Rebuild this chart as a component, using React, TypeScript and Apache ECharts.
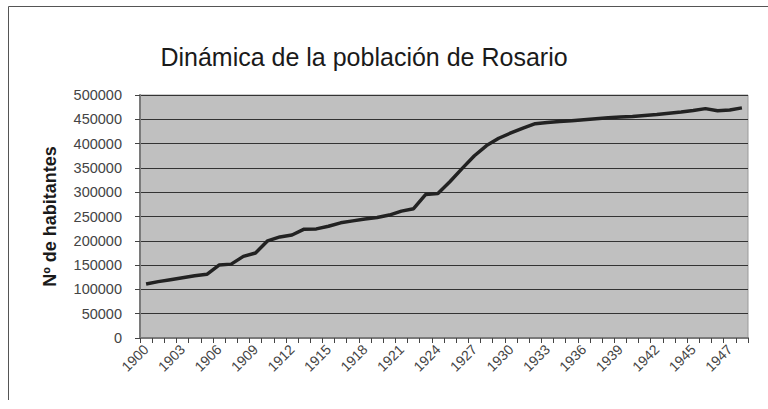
import React, { useEffect, useRef } from "react";
import * as echarts from "echarts";

const titleText = "Dinámica de la población de Rosario";
const yAxisName = "Nº de habitantes";

const years: string[] = [
  "1900", "1901", "1902", "1903", "1904", "1905", "1906", "1907", "1908", "1909",
  "1910", "1911", "1912", "1913", "1914", "1915", "1916", "1917", "1918", "1919",
  "1920", "1921", "1922", "1923", "1924", "1925", "1926", "1927", "1928", "1929",
  "1930", "1931", "1932", "1933", "1934", "1935", "1936", "1937", "1938", "1939",
  "1940", "1941", "1942", "1943", "1944", "1945", "1946", "1946", "1947", "1948",
];

const population: number[] = [
  111000, 116000, 120000, 124000, 128000, 131000, 150000, 152000, 168000, 175000,
  200000, 208000, 212000, 224000, 224500, 230000, 237000, 241000, 245000, 248000,
  253000, 261000, 266000, 295500, 297500, 322000, 349000, 375000, 396000, 411000,
  422000, 432000, 441000, 443500, 445500, 447000, 449000, 451000, 453000, 454500,
  456000, 458000, 460000, 462500, 465000, 468000, 472000, 467500, 469000, 473500,
];

export default function App() {
  const ref = useRef<HTMLDivElement>(null);
  useEffect(() => {
    if (!ref.current) return;
    const chart = echarts.init(ref.current, undefined, { renderer: "svg" });
    const font = "'Liberation Sans', Arial, sans-serif";
    chart.setOption({
      animation: false,
      backgroundColor: "#ffffff",
      title: {
        text: titleText,
        left: 359,
        textAlign: "center",
        top: 39,
        textStyle: { fontFamily: font, fontSize: 25, fontWeight: "normal", color: "#1a1a1a" },
      },
      graphic: [
        { type: "line", shape: { x1: 8.5, y1: 6.5, x2: 768, y2: 6.5 }, style: { stroke: "#555", lineWidth: 1 } },
        { type: "line", shape: { x1: 8.5, y1: 6.5, x2: 8.5, y2: 400 }, style: { stroke: "#555", lineWidth: 1 } },
      ],
      grid: {
        left: 140,
        right: 20,
        top: 95,
        bottom: 71,
        show: true,
        backgroundColor: "#c0c0c0",
        borderColor: "#9a9a9a",
        borderWidth: 1,
      },
      xAxis: {
        type: "category",
        data: years,
        boundaryGap: true,
        axisLine: { lineStyle: { color: "#7a7a7a", width: 2 } },
        axisTick: { show: true, interval: 0, length: 5, lineStyle: { color: "#444" } },
        axisLabel: {
          interval: 2,
          rotate: 45,
          margin: 9,
          fontFamily: font,
          fontSize: 14,
          color: "#444",
        },
        splitLine: { show: false },
      },
      yAxis: {
        type: "value",
        min: 0,
        max: 500000,
        interval: 50000,
        name: yAxisName,
        nameLocation: "middle",
        nameGap: 81,
        nameRotate: 90,
        nameTextStyle: { fontFamily: font, fontSize: 18, fontWeight: "bold", color: "#1a1a1a" },
        axisLine: { show: true, lineStyle: { color: "#7a7a7a", width: 2 } },
        axisTick: { show: true, length: 5, lineStyle: { color: "#444" } },
        axisLabel: {
          margin: 18,
          fontFamily: font,
          fontSize: 14.5,
          color: "#444",
          formatter: (v: number) => String(v),
        },
        splitLine: { show: true, lineStyle: { color: "#333", width: 1 } },
      },
      series: [
        {
          type: "line",
          data: population,
          showSymbol: false,
          symbol: "none",
          lineStyle: { color: "#222", width: 3.5 },
          z: 3,
        },
      ],
    });
    return () => chart.dispose();
  }, []);
  return (
    <div
      ref={ref}
      style={{ position: "fixed", left: 0, top: 0, width: 768, height: 409 }}
    />
  );
}
